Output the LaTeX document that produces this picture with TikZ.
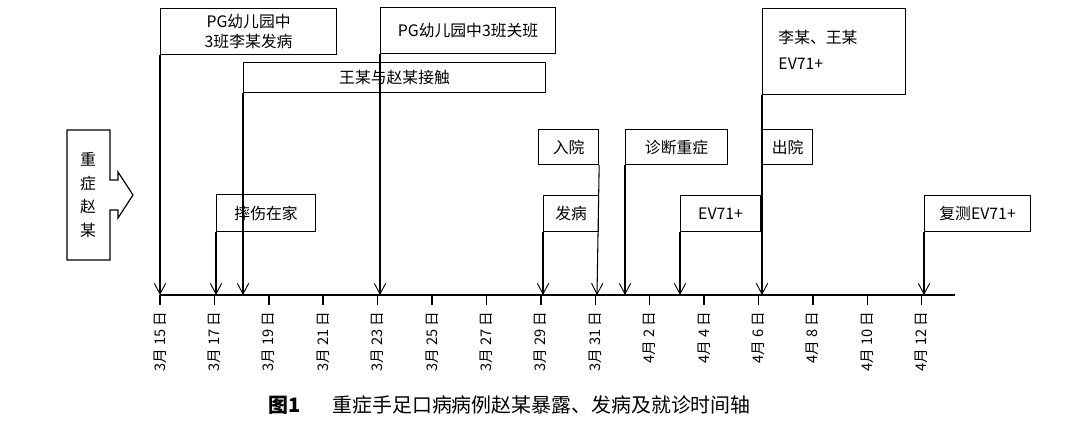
\documentclass[tikz,border=0pt]{standalone}
\usepackage{fontspec}
\setmainfont{Liberation Serif}
\newfontfamily\cjk{Noto Sans CJK SC}[ItalicFont=*]
\usetikzlibrary{arrows.meta}
\begin{document}
\begin{tikzpicture}[x=0.03cm,y=-0.03cm,line width=0.9pt,
  box/.style={draw,line width=1pt,anchor=north west,inner sep=0pt,font=\cjk\fontsize{13.5}{17}\selectfont,align=center},
  evt/.style={-{Straight Barb[length=3.2mm,width=3.4mm,line width=0.8pt]},line width=0.9pt},
  dlab/.style={rotate=90,anchor=east,font=\cjk\fontsize{12.5}{14}\selectfont}]
\useasboundingbox (0,0) rectangle (1080,442);
% axis
\draw[line width=1.6pt] (160,295) -- (955,295);
\foreach \d/\t in {0/3月 15 日,2/3月 17 日,4/3月 19 日,6/3月 21 日,8/3月 23 日,10/3月 25 日,12/3月 27 日,14/3月 29 日,16/3月 31 日,18/4月 2 日,20/4月 4 日,22/4月 6 日,24/4月 8 日,26/4月 10 日,28/4月 12 日}{
  \draw[line width=1.2pt] ({160+27.2*\d},295) -- ({160+27.2*\d},305);
  \node[dlab] (d\d) at ({160+27.2*\d},307) {\t};
}
\foreach \n/\x in {a/160,b/216,c/243,e/380,f/543,g/597,h/625,i/680,j/762,k/924}
  \coordinate (t\n) at (\x,295);
% boxes
\node[box,minimum width=176*0.03cm,minimum height=46*0.03cm] (b1) at (160,8) {PG幼儿园中\\3班李某发病};
\node[box,minimum width=99*0.03cm,minimum height=37*0.03cm] (b2) at (216,194) {摔伤在家};
\node[box,minimum width=302*0.03cm,minimum height=30*0.03cm] (b3) at (243,62) {王某与赵某接触};
\node[box,minimum width=175*0.03cm,minimum height=46*0.03cm] (b4) at (380,7) {PG幼儿园中3班关班};
\node[box,minimum width=55*0.03cm,minimum height=36*0.03cm] (b5) at (543,195) {发病};
\node[box,minimum width=60*0.03cm,minimum height=35*0.03cm] (b6) at (538,129) {入院};
\node[box,minimum width=102*0.03cm,minimum height=35*0.03cm] (b7) at (625,129) {诊断重症};
\node[box,minimum width=80*0.03cm,minimum height=36*0.03cm] (b8) at (680,195) {EV71+};
\node[box,minimum width=143*0.03cm,minimum height=86*0.03cm] (b9) at (762,8) {};
\node[font=\cjk\fontsize{13.5}{22}\selectfont,anchor=north west,align=left] (b9t) at (774,26) {李某、王某\\EV71+};
\node[box,minimum width=50*0.03cm,minimum height=35*0.03cm] (b10) at (762,129) {出院};
\node[box,minimum width=106*0.03cm,minimum height=36*0.03cm] (b11) at (924,195) {复测EV71+};
% connectors
\draw[evt] (b1.south west) -- (ta);
\draw[evt] (b2.south west) -- (tb);
\draw[evt] (b3.south west) -- (tc);
\draw[evt] (b4.south west) -- (te);
\draw[evt] (b5.south west) -- (tf);
\draw[evt] (b6.south east) -- (tg);
\draw[evt] (b7.south west) -- (th);
\draw[evt] (b8.south west) -- (ti);
\draw[evt] (b9.south west) -- (tj);
\draw[evt] (b11.south west) -- (tk);
% left patient marker
\draw[line width=1pt] (67,130) -- (110,130) -- (110,180) -- (118,180) -- (118,172) -- (133,195) -- (118,218) -- (118,210) -- (110,210) -- (110,260) -- (67,260) -- cycle;
\node[font=\cjk\fontsize{13.5}{20}\selectfont,align=center] (pz) at (88,195) {重\\症\\赵\\某};
% caption
\node[font=\cjk\bfseries\fontsize{17}{20}\selectfont,anchor=west] (cap1) at (264,405) {图1};
\node[font=\cjk\fontsize{17}{20}\selectfont,anchor=west] (cap2) at (328,405) {重症手足口病病例赵某暴露、发病及就诊时间轴};
\end{tikzpicture}
\end{document}
